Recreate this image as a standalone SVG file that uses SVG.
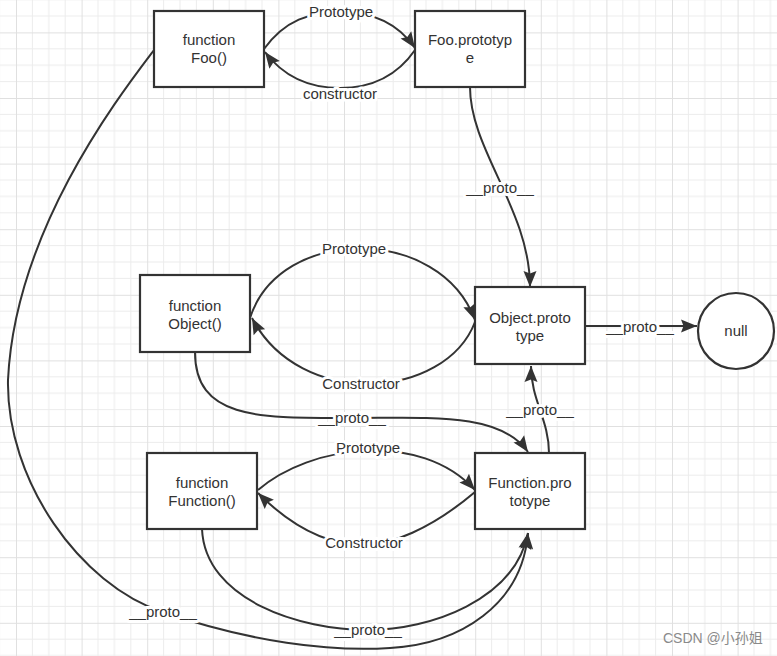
<svg xmlns="http://www.w3.org/2000/svg" width="777" height="656" viewBox="0 0 777 656">
<style>
.box{fill:#fff;stroke:#333;stroke-width:2.2}
.t{font-family:"Liberation Sans",Arial,sans-serif;font-size:15px;fill:#333;text-anchor:middle}
.lbl{font-family:"Liberation Sans",Arial,sans-serif;font-size:15px;fill:#333;text-anchor:middle;stroke:#fff;stroke-width:6px;paint-order:stroke;stroke-linejoin:round}
.c{fill:none;stroke:#333;stroke-width:2}
.wm{font-family:"Liberation Sans","Noto Sans CJK SC",sans-serif;font-size:14px;fill:#8a8a8a}
</style>
<defs>
<pattern id="grid" patternUnits="userSpaceOnUse" x="16" y="32.4" width="65.6" height="65.6">
<path d="M16.4,0V65.6M32.8,0V65.6M49.2,0V65.6M0,16.4H65.6M0,32.8H65.6M0,49.2H65.6" stroke="#ececec" stroke-width="1" fill="none"/>
<path d="M0.5,0V65.6M0,0.5H65.6" stroke="#e0e0e0" stroke-width="1" fill="none"/>
</pattern>
<marker id="arr" markerUnits="userSpaceOnUse" markerWidth="18" markerHeight="14" refX="16" refY="6.5" orient="auto" overflow="visible">
<path d="M0,0 L16,6.5 L0,13 L2.5,6.5 z" fill="#333"/>
</marker>
</defs>
<rect width="777" height="656" fill="#fff"/>
<rect width="777" height="656" fill="url(#grid)"/>

<g id="connectors">
<path class="c" d="M264,49 C285,20 310,12 341,12 C372,12 397,22 415,48" marker-end="url(#arr)"/>
<path class="c" d="M415,50 C397,76 372,88 340,88 C308,88 283,76 265,52" marker-end="url(#arr)"/>
<path class="c" d="M470,87 C470,150 530,210 530,287" marker-end="url(#arr)"/>
<path class="c" d="M250,318 C280,225 440,225 475,320" marker-end="url(#arr)"/>
<path class="c" d="M475,322 C445,400 300,410 252,318" marker-end="url(#arr)"/>
<path class="c" d="M585,326 L697,326" marker-end="url(#arr)"/>
<path class="c" d="M195,352 C195,420 260,418 350,418 C430,418 500,412 528,452" marker-end="url(#arr)"/>
<path class="c" d="M549,453 C549,420 531,400 531,366" marker-end="url(#arr)"/>
<path class="c" d="M258,490 C310,445 420,430 475,490" marker-end="url(#arr)"/>
<path class="c" d="M475,492 C430,530 390,545 364,545 C330,545 295,530 258,493" marker-end="url(#arr)"/>
<path class="c" d="M202,529 C205,600 300,630 368,630 C430,630 515,600 528,533" marker-end="url(#arr)"/>
<path class="c" d="M154,50 C120,95 15,230 8,380 C6,480 80,585 163,612 C250,642 330,652 390,648 C460,644 522,605 528,533" marker-end="url(#arr)"/>
<text class="lbl" x="341" y="17">Prototype</text>
<text class="lbl" x="340" y="99">constructor</text>
<text class="lbl" x="500" y="193">__proto__</text>
<text class="lbl" x="354" y="254">Prototype</text>
<text class="lbl" x="361" y="389">Constructor</text>
<text class="lbl" x="640" y="332">__proto__</text>
<text class="lbl" x="352" y="423">__proto__</text>
<text class="lbl" x="540" y="415">__proto__</text>
<text class="lbl" x="368" y="453">Prototype</text>
<text class="lbl" x="364" y="548">Constructor</text>
<text class="lbl" x="163" y="617">__proto__</text>
<text class="lbl" x="368" y="635">__proto__</text>
</g>

<g id="foo">
<rect class="box" x="154" y="11" width="110" height="76"/>
<text class="t" x="209" y="45">function</text>
<text class="t" x="209" y="63">Foo()</text>
</g>
<g id="foo-prototype">
<rect class="box" x="415" y="11" width="110" height="76"/>
<text class="t" x="470" y="45">Foo.prototyp</text>
<text class="t" x="470" y="63">e</text>
</g>
<g id="object">
<rect class="box" x="140" y="275" width="110" height="77"/>
<text class="t" x="195" y="311">function</text>
<text class="t" x="195" y="329">Object()</text>
</g>
<g id="object-prototype">
<rect class="box" x="475" y="287" width="110" height="77"/>
<text class="t" x="530" y="323">Object.proto</text>
<text class="t" x="530" y="341">type</text>
</g>
<g id="null">
<circle cx="736" cy="331" r="38" fill="#fff" stroke="#333" stroke-width="2.2"/>
<text class="t" x="736" y="336">null</text>
</g>
<g id="function">
<rect class="box" x="147" y="453" width="110" height="76"/>
<text class="t" x="202" y="488">function</text>
<text class="t" x="202" y="506">Function()</text>
</g>
<g id="function-prototype">
<rect class="box" x="475" y="453" width="110" height="76"/>
<text class="t" x="530" y="488">Function.pro</text>
<text class="t" x="530" y="506">totype</text>
</g>
<text class="wm" x="663" y="643">CSDN @小孙姐</text>
</svg>
